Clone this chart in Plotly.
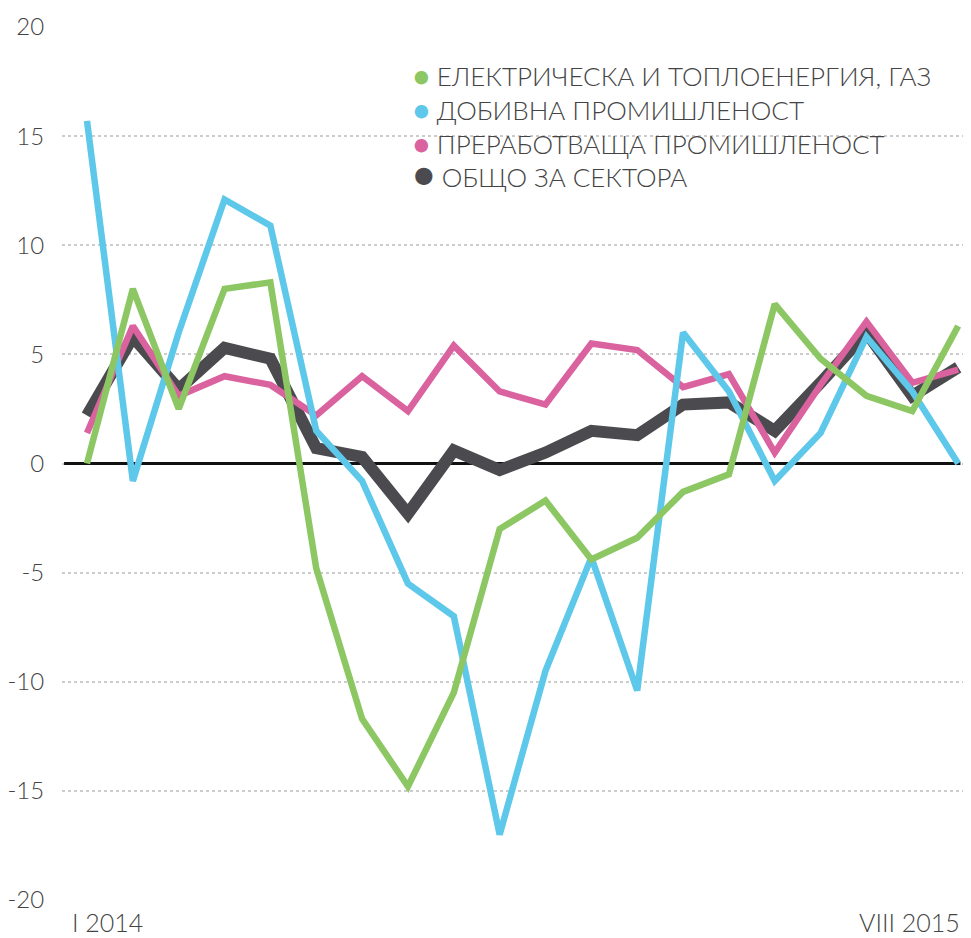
import plotly.graph_objects as go

months = ["I 2014", "II 2014", "III 2014", "IV 2014", "V 2014", "VI 2014", "VII 2014",
          "VIII 2014", "IX 2014", "X 2014", "XI 2014", "XII 2014", "I 2015", "II 2015",
          "III 2015", "IV 2015", "V 2015", "VI 2015", "VII 2015", "VIII 2015"]

energy = [0.0, 8.0, 2.5, 8.0, 8.3, -4.8, -11.7, -14.8, -10.5, -3.0,
          -1.7, -4.4, -3.4, -1.3, -0.5, 7.3, 4.8, 3.1, 2.4, 6.3]
mining = [15.7, -0.8, 6.0, 12.1, 10.9, 1.5, -0.8, -5.5, -7.0, -17.0,
          -9.5, -4.3, -10.4, 6.0, 3.3, -0.8, 1.4, 5.8, 3.3, 0.0]
manufacturing = [1.4, 6.3, 3.1, 4.0, 3.6, 2.2, 4.0, 2.4, 5.4, 3.3,
                 2.7, 5.5, 5.2, 3.5, 4.1, 0.5, 3.6, 6.5, 3.7, 4.3]
total = [2.2, 5.8, 3.4, 5.3, 4.8, 0.7, 0.3, -2.3, 0.6, -0.3,
         0.5, 1.5, 1.3, 2.7, 2.8, 1.5, 3.7, 6.0, 3.1, 4.4]

names = ["ЕЛЕКТРИЧЕСКА И ТОПЛОЕНЕРГИЯ, ГАЗ", "ДОБИВНА ПРОМИШЛЕНОСТ",
         "ПРЕРАБОТВАЩА ПРОМИШЛЕНОСТ", "ОБЩО ЗА СЕКТОРА"]
y_ticks = [-20, -15, -10, -5, 0, 5, 10, 15, 20]

GREEN = "#8cc763"
BLUE = "#5ec8ea"
PINK = "#d9629f"
GRAY = "#4b4b4f"
TXT = "#444444"
FONT = "Lato, Noto Sans"

x = list(range(len(months)))

fig = go.Figure()

# линии (сивата е най-отдолу)
for vals, col, w in [(total, GRAY, 12), (manufacturing, PINK, 6.5),
                     (mining, BLUE, 6.5), (energy, GREEN, 6.5)]:
    fig.add_trace(go.Scatter(x=x, y=vals, mode="lines", showlegend=False,
                             line=dict(color=col, width=w), hoverinfo="skip"))

# нулева линия
fig.add_shape(type="line", xref="x", yref="y", x0=-0.5, x1=19.05, y0=0, y1=0,
              line=dict(color="#111111", width=3), layer="between")

# легенда като текст
rows = []
for name, col, dot in zip(names, [GREEN, BLUE, PINK, GRAY], [28, 28, 28, 36]):
    rows.append(f"<span style='color:{col};font-size:{dot}px'>●</span>\u00a0{name}")
fig.add_annotation(x=0.384, y=0.967, xref="paper", yref="paper", text="<br>".join(rows),
                   xanchor="left", yanchor="top", align="left", showarrow=False,
                   font=dict(size=26, color=TXT, family=FONT, weight=300))

fig.add_annotation(x=0, y=0, xref="x", yref="paper", text=months[0],
                   xanchor="left", yanchor="middle", xshift=-17, yshift=-22, showarrow=False,
                   font=dict(size=25, color=TXT, family=FONT, weight=300))
fig.add_annotation(x=19, y=0, xref="x", yref="paper", text=months[-1],
                   xanchor="right", yanchor="middle", xshift=4, yshift=-22, showarrow=False,
                   font=dict(size=25, color=TXT, family=FONT, weight=300))

# страницата има 8px отстъп, затова фигурата е с 8px по-малка
fig.update_layout(
    width=963, height=930,
    margin=dict(l=54, r=0, t=19, b=38),
    plot_bgcolor="white", paper_bgcolor="white",
    font=dict(family=FONT, color=TXT, weight=300),
    showlegend=False,
)
fig.update_xaxes(range=[-0.545, 19.28], showgrid=False, zeroline=False,
                 showticklabels=False, showline=False, automargin=False)
fig.update_yaxes(range=[-20, 20], tickvals=y_ticks, ticktext=[str(v) for v in y_ticks],
                 showgrid=True, gridcolor="#cccccc", griddash="dot", gridwidth=1.5,
                 zeroline=False, showline=False, ticks="outside", ticklen=12,
                 tickcolor="rgba(0,0,0,0)", automargin=False,
                 tickfont=dict(size=24, color=TXT, family=FONT, weight=300))

fig.write_html("out.html")
